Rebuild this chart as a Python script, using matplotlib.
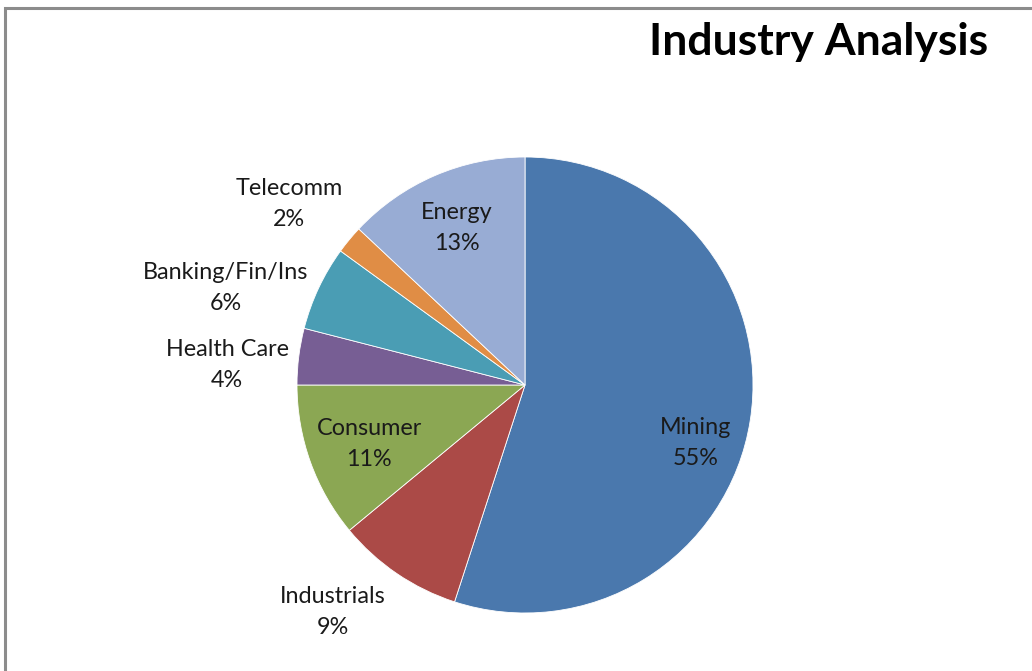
import matplotlib
matplotlib.use("Agg")
import matplotlib.pyplot as plt
from matplotlib.patches import Rectangle

# data
sectors = ["Mining", "Industrials", "Consumer", "Health Care", "Banking/Fin/Ins", "Telecomm", "Energy"]
shares = [55, 9, 11, 4, 6, 2, 13]
colors = ["#4a78ad", "#ab4a47", "#8ba753", "#775e94", "#4a9db4", "#e08d45", "#98acd4"]

# label centres in pixels (x, y from top) - layout only
label_pos = [(696, 443), (333, 612), (369, 444), (227, 365), (226, 288), (289, 204), (457, 228)]

W, H = 1032, 671
fig = plt.figure(figsize=(W / 100, H / 100), dpi=100)
ax = fig.add_axes([0, 0, 1, 1])

ax.pie(shares, colors=colors, startangle=90, counterclock=False,
       center=(525, H - 385), radius=228, frame=True,
       wedgeprops=dict(edgecolor="white", linewidth=0.6))
ax.set_xlim(0, W)
ax.set_ylim(0, H)
ax.set_aspect("equal")
ax.axis("off")

for name, val, (x, y) in zip(sectors, shares, label_pos):
    ax.text(x, H - y, f"{name}\n{val}%", ha="center", va="center",
            fontsize=16.8, family="Lato", color="#1a1a1a", linespacing=1.62)

# title
ax.text(819, H - 42, "Industry Analysis", ha="center", va="center",
        fontsize=32, family="Lato", fontweight="bold", color="black")

# chart border (only top and left visible)
fig.add_artist(Rectangle((5 / W, -0.1), 1.2, (H - 8) / H + 0.1,
                         transform=fig.transFigure, fill=False,
                         edgecolor="#8c8c8c", linewidth=2.2))

fig.savefig("out.png", dpi=100)
